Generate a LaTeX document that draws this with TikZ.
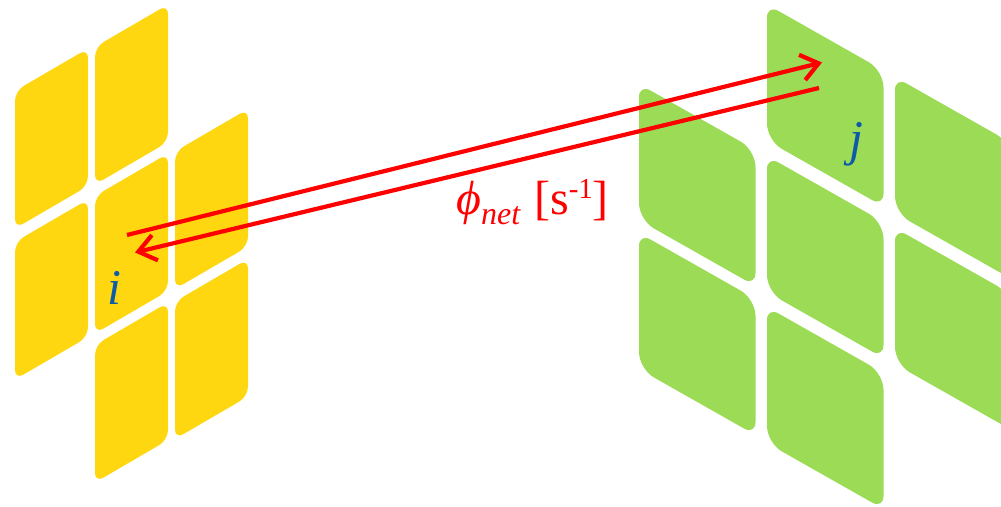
\documentclass[tikz,border=0pt]{standalone}
\usepackage{fontspec}
\setmainfont{Liberation Serif}
\usetikzlibrary{arrows.meta}
\definecolor{tileyellow}{HTML}{FFD710}
\definecolor{tilegreen}{HTML}{9BDB55}
\definecolor{labelblue}{HTML}{0B5BA8}
\tikzset{
  flow/.style={draw=red,line width=4.2pt,line cap=butt,-{Straight Barb[length=17pt,width=26pt,line width=4.2pt]}},
  flowtext/.style={text=red,inner sep=0pt,anchor=base west,font=\fontsize{48}{48}\selectfont},
  celllabel/.style={text=labelblue,inner sep=0pt,anchor=base west,font=\fontsize{50}{50}\selectfont\itshape},
}
% x y(top-left)
\newcommand{\ycell}[2]{\fill[tileyellow] (#1,#2+68) [rounded corners=10pt] -- (#1,#2) [rounded corners=9.5pt] -- (#1+73,#2-42.5) [rounded corners=10pt] -- (#1+73,#2-42.5+137.5) [rounded corners=9.5pt] -- (#1,#2+137.5) [sharp corners] -- cycle;}
\newcommand{\gcell}[2]{\fill[tilegreen] (#1,#2+68) [rounded corners=13pt] -- (#1,#2) [rounded corners=17pt] -- (#1+116.5,#2+66) [rounded corners=13pt] -- (#1+116.5,#2+66+136) [rounded corners=17pt] -- (#1,#2+136) [sharp corners] -- cycle;}
\begin{document}
\begin{tikzpicture}[x=1pt,y=-1pt]
\path[use as bounding box] (0,0) rectangle (1001,506);
\clip (0,0) rectangle (1001,506);
\ycell{15}{91}\ycell{15}{242}
\ycell{95}{47}\ycell{95}{196}\ycell{95}{345}
\ycell{175}{151.5}\ycell{175}{301.5}
\gcell{639}{84}\gcell{639}{233}
\gcell{767}{4.5}\gcell{767}{156}\gcell{767}{307}
\gcell{895}{77}\gcell{895}{228}
\coordinate (i out) at (127,235);
\coordinate (j in) at (822,62.5);
\coordinate (j out) at (819,88);
\coordinate (i in) at (135,252.5);
\draw[flow] (i out) -- (j in);
\draw[flow] (j out) -- (i in);
\node[celllabel] (i) at (107,304) {i};
\node[celllabel] (j) at (849,155) {j};
\node[flowtext] (phi) at (456,214) {\itshape ϕ\raisebox{-10pt}{\fontsize{32}{32}\selectfont net}\hspace{14pt}\upshape [s\raisebox{15.5pt}{\fontsize{29}{29}\selectfont -1}]};
\end{tikzpicture}
\end{document}
